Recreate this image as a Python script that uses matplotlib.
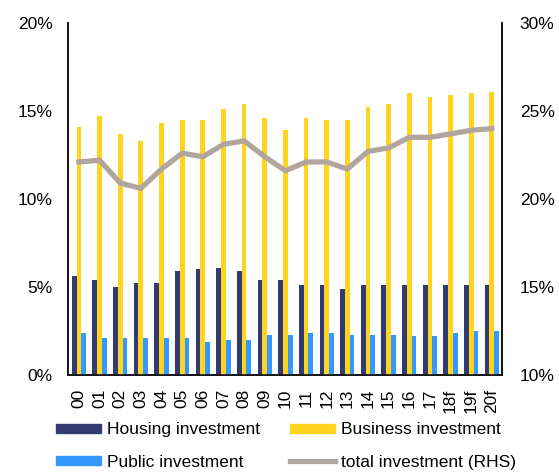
import numpy as np
import matplotlib
matplotlib.use("Agg")
import matplotlib.pyplot as plt
from matplotlib.patches import Patch
from matplotlib.lines import Line2D

plt.rcParams["font.family"] = ["Liberation Sans", "DejaVu Sans"]

years = ["00", "01", "02", "03", "04", "05", "06", "07", "08", "09", "10",
         "11", "12", "13", "14", "15", "16", "17", "18f", "19f", "20f"]
housing = [5.6, 5.4, 5.0, 5.2, 5.2, 5.9, 6.0, 6.1, 5.9, 5.4, 5.4,
           5.1, 5.1, 4.9, 5.1, 5.1, 5.1, 5.1, 5.1, 5.1, 5.1]
business = [14.1, 14.7, 13.7, 13.3, 14.3, 14.5, 14.5, 15.1, 15.4, 14.6, 13.9,
            14.6, 14.5, 14.5, 15.2, 15.4, 16.0, 15.8, 15.9, 16.0, 16.1]
public = [2.4, 2.1, 2.1, 2.1, 2.1, 2.1, 1.9, 2.0, 2.0, 2.3, 2.3,
          2.4, 2.4, 2.3, 2.3, 2.3, 2.2, 2.2, 2.4, 2.5, 2.5]
total_rhs = [22.1, 22.2, 20.9, 20.6, 21.7, 22.6, 22.4, 23.1, 23.3, 22.4, 21.6,
             22.1, 22.1, 21.7, 22.7, 22.9, 23.5, 23.5, 23.7, 23.9, 24.0]

COL = {"housing": "#323a72", "business": "#ffd420", "public": "#3399ff", "total": "#b1a59d"}
FS = 12.5

fig = plt.figure(figsize=(5.59, 4.72), dpi=100)
ax = fig.add_axes([0.1216, 0.2055, 0.776, 0.746])
ax2 = ax.twinx()

x = np.arange(len(years))
w = 0.23
ax.bar(x - w, housing, width=w, color=COL["housing"], zorder=3)
ax.bar(x, business, width=w, color=COL["business"], zorder=3)
ax.bar(x + w, public, width=w, color=COL["public"], zorder=3)
ax2.plot(x, total_rhs, color=COL["total"], lw=3.8, zorder=4)

ax.set_xlim(-0.53, 20.48)
ax.set_ylim(0, 20)
ax.set_yticks([0, 5, 10, 15, 20])
ax.set_yticklabels([f"{v}%" for v in [0, 5, 10, 15, 20]], fontsize=FS)
ax.set_xticks(x)
ax.set_xticklabels(years, rotation=90, fontsize=FS)
ax.tick_params(axis="both", length=0)
ax.tick_params(axis="y", pad=11)
ax.tick_params(axis="x", pad=10)

ax2.set_ylim(10, 30)
ax2.set_yticks([10, 15, 20, 25, 30])
ax2.set_yticklabels([f"{v}%" for v in [10, 15, 20, 25, 30]], fontsize=FS)
ax2.tick_params(axis="y", length=0, pad=13)

for a in (ax, ax2):
    a.spines["top"].set_visible(False)
    for s in ("left", "right", "bottom"):
        a.spines[s].set_linewidth(1.2)
        a.spines[s].set_color("#111111")

# ncol=2 fills column-wise, so order: col1 = housing, public; col2 = business, total
handles = [Patch(color=COL["housing"]), Patch(color=COL["public"]),
           Patch(color=COL["business"]), Line2D([], [], color=COL["total"], lw=3.8)]
labels = ["Housing investment", "Public investment",
          "Business investment", "total investment (RHS)"]
fig.legend(handles, labels, ncol=2, loc="upper left", bbox_to_anchor=(0.1, 0.105),
           frameon=False, fontsize=FS, handlelength=2.6, handleheight=0.45,
           handletextpad=0.35, columnspacing=1.7, labelspacing=1.0,
           borderaxespad=0, borderpad=0)

fig.savefig("out.png", dpi=100)
